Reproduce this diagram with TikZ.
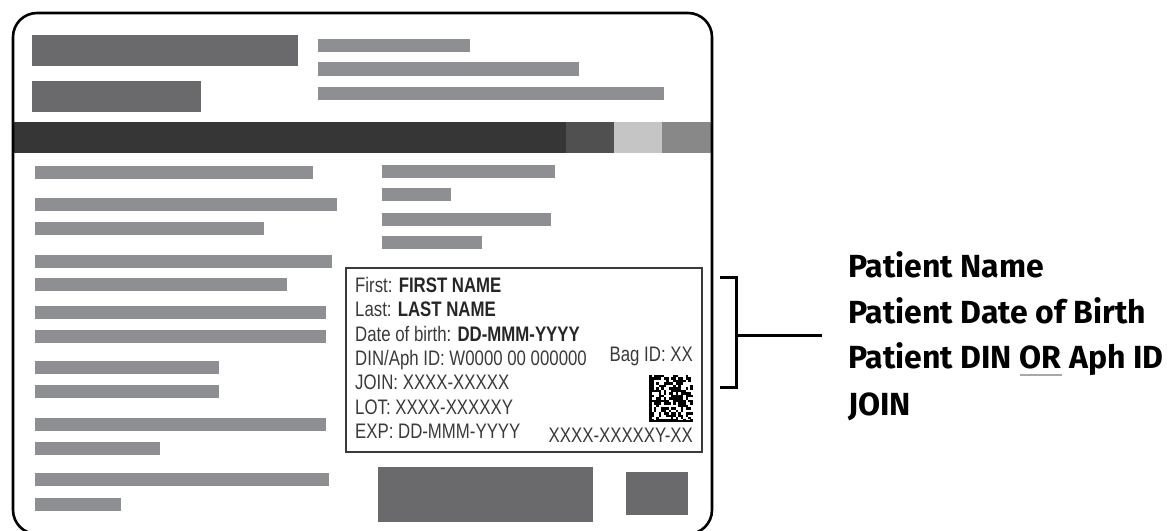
\documentclass[tikz,border=0pt]{standalone}
\usepackage{fontspec}
\newfontfamily\lblfont[FakeStretch=0.8]{Liberation Sans}
\newfontfamily\firafont{Fira Sans}
\definecolor{blockc}{HTML}{6A6A6C}
\definecolor{linec}{HTML}{8E8F93}
\definecolor{barc}{HTML}{363636}
\definecolor{barb}{HTML}{505050}
\definecolor{barl}{HTML}{C5C5C5}
\definecolor{barg}{HTML}{888888}
\definecolor{lbltext}{HTML}{3A3A3A}
\definecolor{ulc}{HTML}{A8A8A8}
\newcommand{\orul}{\sbox0{OR}\rlap{\textcolor{ulc}{\rule[-7bp]{\wd0}{1.6bp}}}\usebox0}
\tikzset{
  blk/.style={fill=blockc},
  gline/.style={fill=linec},
  lbl/.style={anchor=base west, inner sep=0pt, font=\lblfont\fontsize{21bp}{24bp}\selectfont, text=lbltext},
  lblr/.style={lbl, anchor=base east},
  side/.style={anchor=base west, inner sep=0pt, font=\firafont\bfseries\fontsize{32bp}{36bp}\selectfont, text=black},
}
\begin{document}
\begin{tikzpicture}[x=1bp,y=-1bp]
\useasboundingbox (0,0) rectangle (1170,531);
% dark bar
\fill[barc] (13,122) rectangle (566,153);
\fill[barb] (566,122) rectangle (614,153);
\fill[barl] (614,122) rectangle (662,153);
\fill[barg] (662,122) rectangle (712,153);
% card outline
\draw[line width=2.6bp, rounded corners=24bp] (13,13) rectangle (712,534);
% top blocks
\fill[blk] (32,35) rectangle (298,66);
\fill[blk] (32,81) rectangle (201,112);
\fill[gline] (318,39) rectangle (470,52);
\fill[gline] (318,62) rectangle (579,76);
\fill[gline] (318,87) rectangle (664,100);
% left column lines
\foreach \ya/\xb in {166/313,198/337,222/264,255/332,278/287,306/326,330/326,361/219,385/219,418/326,442/160,473/329,498/121}
  \fill[gline] (35,\ya) rectangle (\xb,\ya+13);
% right column lines
\foreach \ya/\xb in {165/555,188/451,213/551,236/482}
  \fill[gline] (382,\ya) rectangle (\xb,\ya+13);
% bottom blocks
\fill[blk] (378,467) rectangle (593,522);
\fill[blk] (626,472) rectangle (688,515);
% label box
\draw[line width=2bp, draw=lbltext] (346,268) rectangle (702,452);
\node[lbl] (l1) at (355,293) {First: {\bfseries\color{black!85}FIRST NAME}};
\node[lbl] (l2) at (355,317) {Last: {\bfseries\color{black!85}LAST NAME}};
\node[lbl] (l3) at (355,341.5) {Date of birth: {\bfseries\color{black!85}DD-MMM-YYYY}};
\node[lbl] (l4) at (355,365.5) {DIN/Aph ID: W0000 00 000000};
\node[lbl] (l5) at (355,389.5) {JOIN: XXXX-XXXXX};
\node[lbl] (l6) at (355,414) {LOT: XXXX-XXXXXY};
\node[lbl] (l7) at (355,438) {EXP: DD-MMM-YYYY};
\node[lblr] (bag) at (693,362) {Bag ID: XX};
\node[lblr] (code) at (693,442) {XXXX-XXXXXY-XX};
% 2D code
\pgfmathsetseed{17}
\foreach \i in {0,...,17}{
  \foreach \j in {0,...,18}{
    \pgfmathtruncatemacro\rr{rnd>0.48}
    \ifnum\rr=1 \fill[black] (649+\i*2.44,375+\j*2.47) rectangle ++(2.5,2.5);\fi
  }}
\fill[black] (649,375) rectangle (651.5,422);
\fill[black] (649,419.5) rectangle (693,422);
% bracket
\coordinate (bt) at (720,278);
\coordinate (bb) at (720,388);
\coordinate (bm) at (736,336);
\coordinate (be) at (822,336);
\draw[line width=3bp] (bt) -| (736,388) -- (bb);
\draw[line width=3bp] (bm) -- (be);
% side text
\node[side] (s1) at (848,278) {Patient Name};
\node[side] (s2) at (848,324) {Patient Date of Birth};
\node[side] (s3) at (848,369) {Patient DIN \orul{} Aph ID};
\node[side] (s4) at (848,415) {JOIN};
\end{tikzpicture}
\end{document}
